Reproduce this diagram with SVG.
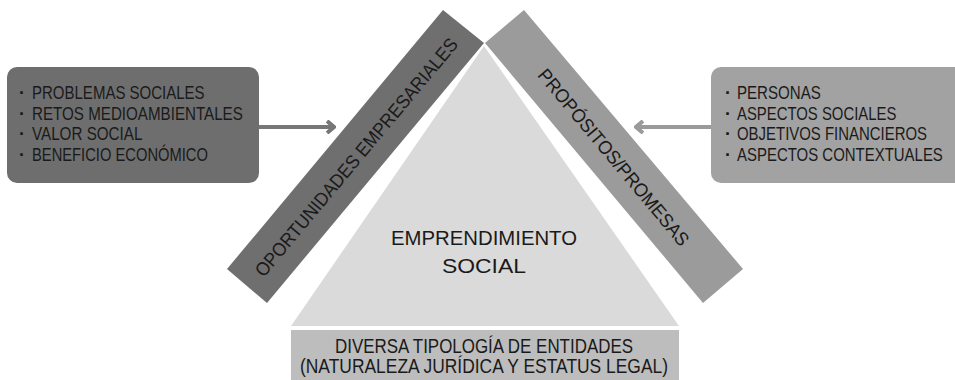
<svg xmlns="http://www.w3.org/2000/svg" width="955" height="380" viewBox="0 0 955 380">
<style>
.t{font-family:"Liberation Sans",Arial,sans-serif;fill:#1a1a1a;}
.box{font-size:18px;}
.dot{font-size:18px;font-weight:bold;}
.band{font-size:19px;}
.mid{font-size:21px;}
.bot{font-size:20px;}
</style>
<defs>
<marker id="chev" markerWidth="10" markerHeight="14" refX="8" refY="7" orient="auto" markerUnits="userSpaceOnUse">
<path d="M1,1 L8,7 L1,13" fill="none" stroke="context-stroke" stroke-width="4"/>
</marker>
</defs>
<rect width="955" height="380" fill="#ffffff"/>
<g id="triangle">
<polygon points="484,46 291,326 679,326" fill="#dadada"/>
<text class="t mid" x="484" y="245" text-anchor="middle" textLength="186" lengthAdjust="spacingAndGlyphs">EMPRENDIMIENTO</text>
<text class="t mid" x="484" y="273" text-anchor="middle" textLength="84" lengthAdjust="spacingAndGlyphs">SOCIAL</text>
</g>
<g id="base">
<rect x="291" y="330" width="388" height="50" fill="#bdbdbd"/>
<text class="t bot" x="484" y="353" text-anchor="middle" textLength="298" lengthAdjust="spacingAndGlyphs">DIVERSA TIPOLOGÍA DE ENTIDADES</text>
<text class="t bot" x="484" y="373" text-anchor="middle" textLength="368" lengthAdjust="spacingAndGlyphs">(NATURALEZA JURÍDICA Y ESTATUS LEGAL)</text>
</g>
<g id="left-band">
<polygon points="443,10 484,43 267,303 227,269" fill="#6f6f6f"/>
<text class="t band" transform="translate(356,157) rotate(-50.1)" x="0" y="7" text-anchor="middle" textLength="304" lengthAdjust="spacingAndGlyphs">OPORTUNIDADES EMPRESARIALES</text>
</g>
<g id="right-band">
<polygon points="485,43 524,10 743,269 703,303" fill="#9b9b9b"/>
<text class="t band" transform="translate(614,157) rotate(50.1)" x="0" y="7" text-anchor="middle" textLength="224" lengthAdjust="spacingAndGlyphs">PROPÓSITOS/PROMESAS</text>
</g>
<g id="left-box">
<rect x="7" y="67" width="252" height="116" rx="10" fill="#6e6e6e"/>
<text class="t dot" x="19" y="99">·</text>
<text class="t dot" x="19" y="120">·</text>
<text class="t dot" x="19" y="140">·</text>
<text class="t dot" x="19" y="161">·</text>
<g transform="translate(32,0) scale(0.83,1)">
<text class="t box" x="0" y="99" textLength="208" lengthAdjust="spacingAndGlyphs">PROBLEMAS SOCIALES</text>
<text class="t box" x="0" y="120" textLength="254" lengthAdjust="spacingAndGlyphs">RETOS MEDIOAMBIENTALES</text>
<text class="t box" x="0" y="140" textLength="133" lengthAdjust="spacingAndGlyphs">VALOR SOCIAL</text>
<text class="t box" x="0" y="161" textLength="212" lengthAdjust="spacingAndGlyphs">BENEFICIO ECONÓMICO</text>
</g>
</g>
<g id="right-box">
<path d="M721,67 H955 V183 H721 A10,10 0 0 1 711,173 V77 A10,10 0 0 1 721,67 Z" fill="#a2a2a2"/>
<text class="t dot" x="725" y="99">·</text>
<text class="t dot" x="725" y="120">·</text>
<text class="t dot" x="725" y="140">·</text>
<text class="t dot" x="725" y="161">·</text>
<g transform="translate(737,0) scale(0.83,1)">
<text class="t box" x="0" y="99" textLength="101" lengthAdjust="spacingAndGlyphs">PERSONAS</text>
<text class="t box" x="0" y="120" textLength="192" lengthAdjust="spacingAndGlyphs">ASPECTOS SOCIALES</text>
<text class="t box" x="0" y="140" textLength="229" lengthAdjust="spacingAndGlyphs">OBJETIVOS FINANCIEROS</text>
<text class="t box" x="0" y="161" textLength="248" lengthAdjust="spacingAndGlyphs">ASPECTOS CONTEXTUALES</text>
</g>
</g>
<g id="connectors" fill="none" stroke-width="4">
<line x1="259" y1="127" x2="334" y2="127" stroke="#777777" marker-end="url(#chev)"/>
<line x1="711" y1="127" x2="636" y2="127" stroke="#9a9a9a" marker-end="url(#chev)"/>
</g>
</svg>
